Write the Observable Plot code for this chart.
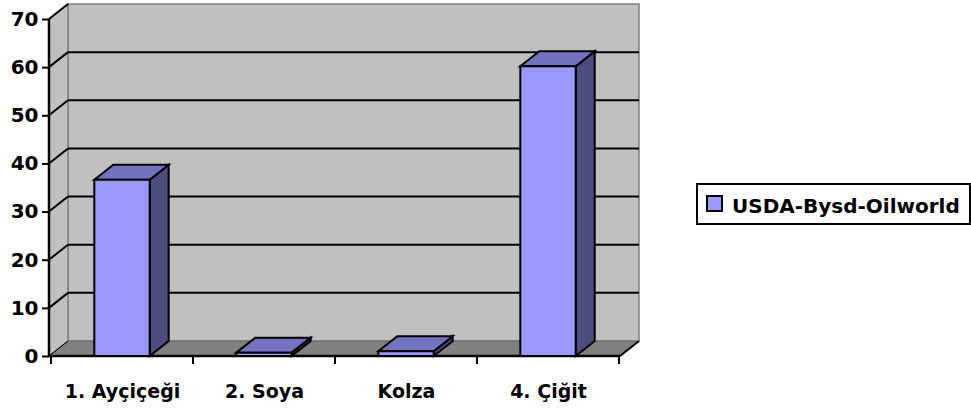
<!DOCTYPE html>
<html>
<head>
<meta charset="utf-8">
<script src="https://cdn.jsdelivr.net/npm/d3@7"></script>
<script src="https://cdn.jsdelivr.net/npm/@observablehq/plot@0.6"></script>
<style>
  html, body { margin: 0; padding: 0; background: #fff; }
  #wrap { position: relative; width: 971px; height: 410px; font-family: "DejaVu Sans", sans-serif; font-weight: bold; }
  #legend { position: absolute; left: 696px; top: 183px; width: 271px; height: 38px; border: 2px solid #000; background: #fff; box-sizing: content-box; }
  #legend .sw { position: absolute; left: 8px; top: 10px; width: 13px; height: 13px; background: #9999ff; border: 2px solid #000; }
  #legend .lab { position: absolute; left: 34px; top: 11px; font-size: 20px; line-height: 20px; color: #000; white-space: nowrap; }
</style>
</head>
<body>
<div id="wrap"></div>
<script>
// ---- data ----
const categories = ["1. Ayçiçeği", "2. Soya", "Kolza", "4. Çiğit"];
const values = [36.6, 0.7, 1.0, 60.2];
const yTicks = [0, 10, 20, 30, 40, 50, 60, 70];
const seriesName = "USDA-Bysd-Oilworld";

const data = categories.map((c, i) => ({category: c, value: values[i]}));

// ---- 3D styling constants ----
const DX = 19, DY = -15;
const BAR_FRAC = 0.39;

function bandInfo(x) {
  let bw;
  if (typeof x.bandwidth === "function") bw = x.bandwidth();
  else if (typeof x.bandwidth === "number") bw = x.bandwidth;
  else bw = x(categories[1]) - x(categories[0]);
  return bw;
}

function pts(a) { return a.map(p => p.join(",")).join(" "); }

// walls, floor, gridlines and category ticks
function walls(index, scales, vals, dims) {
  const {x, y} = scales;
  const L = dims.marginLeft, R = dims.width - dims.marginRight;
  const yTop = y(yTicks[yTicks.length - 1]), y0 = y(yTicks[0]);
  const g = d3.create("svg:g");
  g.append("polygon").attr("points", pts([[L + DX, yTop + DY], [R + DX, yTop + DY], [R + DX, y0 + DY], [L + DX, y0 + DY]]))
    .attr("fill", "#c0c0c0").attr("stroke", "#808080").attr("stroke-width", 1.5);
  g.append("polygon").attr("points", pts([[L, yTop], [L + DX, yTop + DY], [L + DX, y0 + DY], [L, y0]]))
    .attr("fill", "#c0c0c0").attr("stroke", "#808080").attr("stroke-width", 1.5);
  g.append("polygon").attr("points", pts([[L, y0], [L + DX, y0 + DY], [R + DX, y0 + DY], [R, y0]]))
    .attr("fill", "#808080").attr("stroke", "#6a6a6a").attr("stroke-width", 1);
  for (const v of yTicks.slice(1, -1)) {
    const yy = y(v);
    g.append("line").attr("x1", L + DX).attr("x2", R + DX).attr("y1", yy + DY).attr("y2", yy + DY)
      .attr("stroke", "#000").attr("stroke-width", 2);
  }
  for (const v of yTicks) {
    const yy = y(v);
    g.append("line").attr("x1", L).attr("y1", yy).attr("x2", L + DX).attr("y2", yy + DY)
      .attr("stroke", "#000").attr("stroke-width", v === 0 ? 1 : 2);
  }
  g.append("line").attr("x1", L).attr("x2", L).attr("y1", yTop).attr("y2", y0).attr("stroke", "#000").attr("stroke-width", 2.5);
  g.append("line").attr("x1", L).attr("x2", R).attr("y1", y0).attr("y2", y0).attr("stroke", "#000").attr("stroke-width", 2.5);
  g.append("line").attr("x1", R).attr("y1", y0).attr("x2", R + DX).attr("y2", y0 + DY).attr("stroke", "#000").attr("stroke-width", 2);
  const bw = bandInfo(x);
  const bounds = categories.map(c => x(c)).concat([x(categories[categories.length - 1]) + bw]);
  for (const bx of bounds) {
    g.append("line").attr("x1", bx).attr("x2", bx).attr("y1", y0).attr("y2", y0 + 8).attr("stroke", "#000").attr("stroke-width", 2);
  }
  return g.node();
}

// 3D bars
function bars3d(index, scales, vals, dims) {
  const {x, y} = scales;
  const bw = bandInfo(x);
  const w = bw * BAR_FRAC;
  const g = d3.create("svg:g").attr("stroke", "#000").attr("stroke-width", 2).attr("stroke-linejoin", "miter");
  for (const d of data) {
    const xa = x(d.category) + (bw - w) / 2, xb = xa + w;
    const yv = y(d.value), yb = y(0);
    g.append("polygon").attr("points", pts([[xb, yv], [xb + DX, yv + DY], [xb + DX, yb + DY], [xb, yb]])).attr("fill", "#4d4d80");
    g.append("polygon").attr("points", pts([[xa, yv], [xa + DX, yv + DY], [xb + DX, yv + DY], [xb, yv]])).attr("fill", "#7373c0");
    g.append("polygon").attr("points", pts([[xa, yv], [xb, yv], [xb, yb], [xa, yb]])).attr("fill", "#9999ff");
  }
  return g.node();
}

const chart = Plot.plot({
  width: 971,
  height: 410,
  marginLeft: 49,
  marginRight: 351,
  marginTop: 19,
  marginBottom: 54,
  style: {fontFamily: "'DejaVu Sans', sans-serif", fontWeight: "bold", fontSize: "19px", color: "#000", background: "transparent"},
  x: {type: "band", domain: categories, padding: 0},
  y: {domain: [0, 70]},
  marks: [
    walls,
    Plot.axisY({ticks: yTicks, tickSize: 7, tickPadding: 4, strokeWidth: 2, fontSize: 20, fontWeight: "bold", label: null}),
    Plot.axisX({tickSize: 0, tickPadding: 27.5, fontSize: 19, fontWeight: "bold", label: null}),
    bars3d
  ]
});

const wrap = document.getElementById("wrap");
wrap.appendChild(chart);
const legend = document.createElement("div");
legend.id = "legend";
legend.innerHTML = `<div class="sw"></div><div class="lab"></div>`;
legend.querySelector(".lab").textContent = seriesName;
wrap.appendChild(legend);
</script>
</body>
</html>
